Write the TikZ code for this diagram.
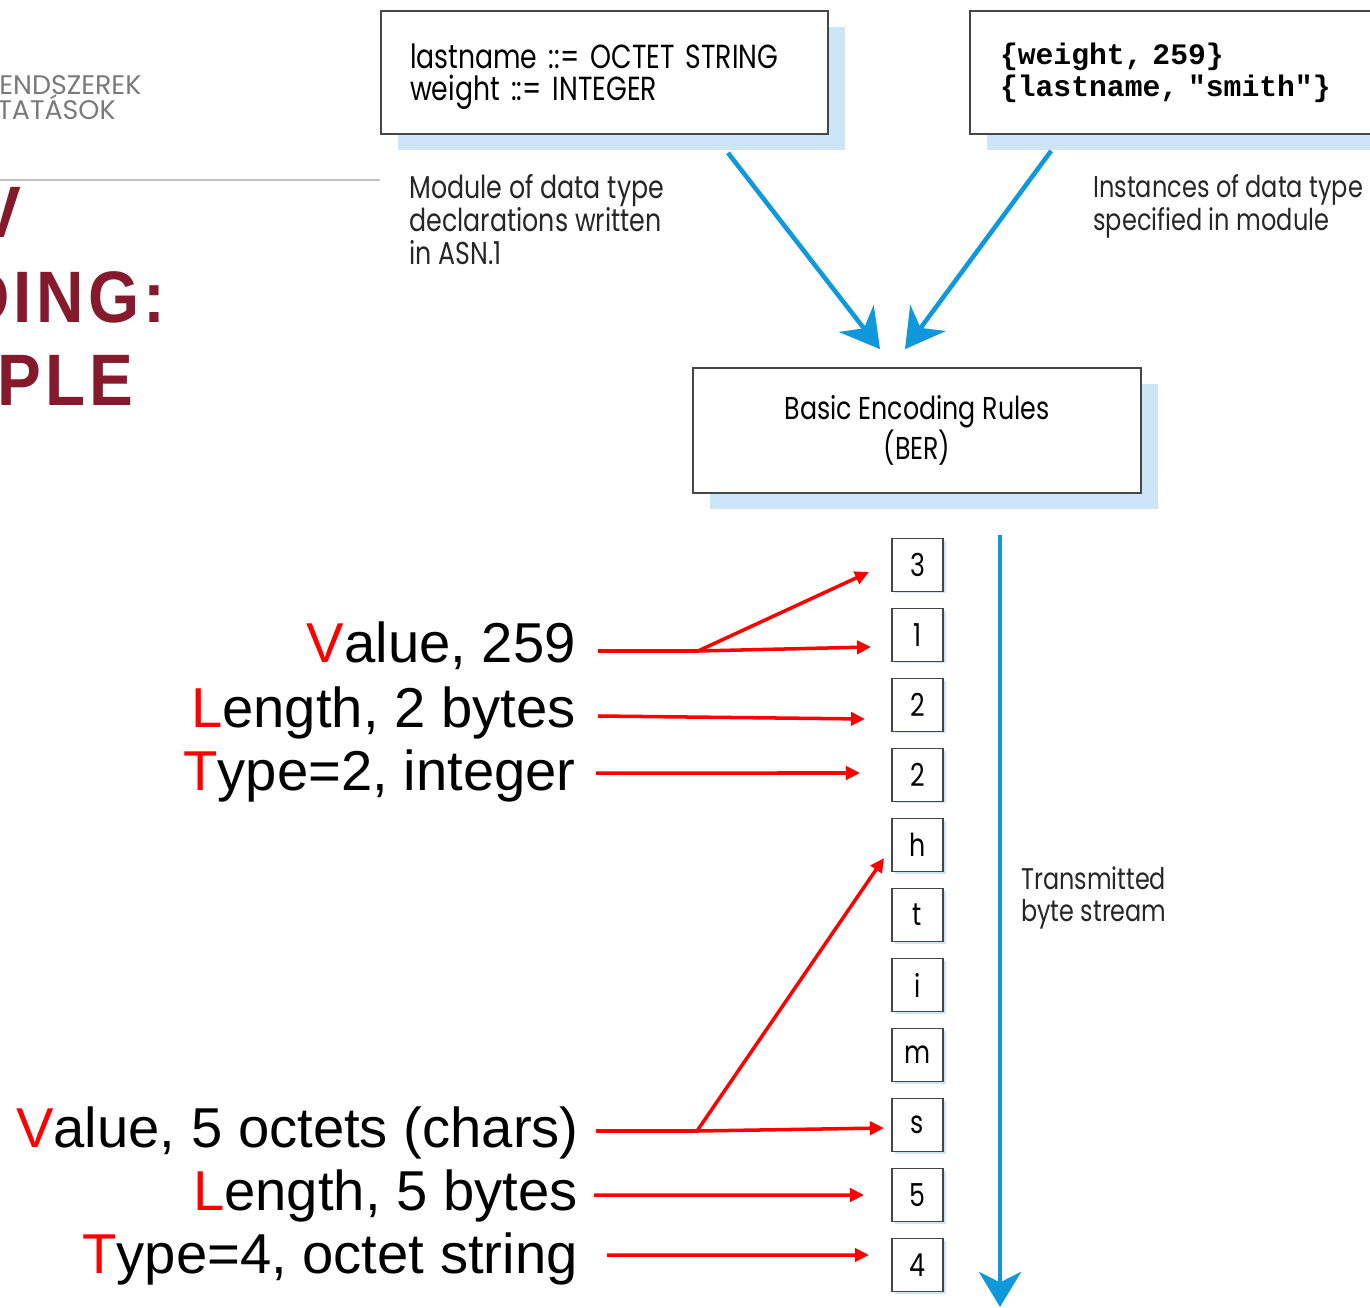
\documentclass[tikz,border=0pt]{standalone}
\usepackage{fontspec}
\setmainfont{Liberation Sans}
\newfontfamily\geofont[FakeStretch=0.8]{Poppins}
\newfontfamily\hdrfont{Poppins}
\newfontfamily\titlefont[FakeStretch=0.9,LetterSpace=6]{Liberation Sans}
\newfontfamily\codefont{Liberation Mono}
\usetikzlibrary{arrows.meta,shadows}
\definecolor{streamblue}{RGB}{16,152,220}
\definecolor{shadeblue}{RGB}{205,230,247}
\definecolor{titlered}{RGB}{134,26,45}
\definecolor{boxgray}{RGB}{70,70,70}
\newcommand{\initial}[1]{\textcolor{red}{#1}}

\begin{document}
\begin{tikzpicture}[x=0.02cm,y=-0.02cm,
    panel/.style={draw=boxgray,line width=1pt,fill=white,inner xsep=0.58cm,
      drop shadow={shadow xshift=0.34cm,shadow yshift=-0.32cm,fill=shadeblue,opacity=1}},
    note/.style={inner sep=0pt,align=left,font=\geofont\fontsize{18}{18.8}\selectfont,text=black!85},
    bytebox/.style={draw=boxgray,line width=1.1pt,fill=white,minimum width=1.02cm,minimum height=1.06cm,
      inner sep=0pt,font=\geofont\fontsize{18}{20}\selectfont,
      drop shadow={shadow xshift=0.06cm,shadow yshift=-0.04cm,fill=shadeblue,opacity=1}},
    label/.style={anchor=base east,inner sep=0pt,font=\fontsize{32}{36}\selectfont},
    heading/.style={anchor=base east,inner sep=0pt,text=titlered,font=\titlefont\bfseries\fontsize{41.5}{48}\selectfont},
    bluearrow/.style={streamblue,line width=2.6pt,-{Stealth[length=22pt,width=25pt,inset=7pt]}},
    redline/.style={red,line width=2pt},
    redarrow/.style={redline,-{Triangle[length=8pt,width=7.5pt]}}]
  \useasboundingbox (0,0) rectangle (1370,1308);
  \clip (0,0) rectangle (1370,1308);

  % slide header and title
  \node[anchor=base west,inner sep=0pt,text=black!52,font=\hdrfont\fontsize{15.3}{16}\selectfont] (hdr1) at (-1,95) {ENDSZEREK};
  \node[anchor=base west,inner sep=0pt,text=black!52,font=\hdrfont\fontsize{15.3}{16}\selectfont] (hdr2) at (-3,120) {TATÁSOK};
  \draw[black!25,line width=1pt] (0,180) -- (380,180);
  \node[heading] (title1) at (22,237) {TLV};
  \node[heading] (title2) at (166,322) {ENCODING:};
  \node[heading] (title3) at (134,405) {EXAMPLE};

  % ASN.1 module, instances and BER
  \node[panel,text width=7.78cm,minimum height=2.46cm,align=left,
    font=\geofont\fontsize{19}{18.3}\selectfont] (decl) at (604.5,72.5)
    {\rule{0pt}{19pt}lastname ::= OCTET STRING\\weight ::= INTEGER};
  \node[panel,text width=7.0cm,inner xsep=0.6cm,minimum height=2.46cm,align=left,
    font=\codefont\bfseries\fontsize{16.9}{18.3}\selectfont] (inst) at (1175,72.5)
    {\{weight, 259\}\\\{lastname, "smith"\}};
  \node[panel,minimum width=8.96cm,minimum height=2.5cm,align=center,
    font=\geofont\fontsize{18}{18}\selectfont] (ber) at (917,430.5)
    {Basic Encoding Rules\\(BER)};
  \node[note,anchor=north west] (declnote) at (409,174) {Module of data type\\declarations written\\in ASN.1};
  \node[note,anchor=north west,font=\geofont\fontsize{17.1}{18.8}\selectfont] (instnote) at (1093,174) {Instances of data type\\specified in module};

  \draw[bluearrow] ([xshift=2.47cm,yshift=-0.36cm]decl.south) -- ([xshift=-0.74cm,yshift=0.36cm]ber.north);
  \draw[bluearrow] ([xshift=1.64cm,yshift=-0.32cm]inst.south west) -- ([xshift=-0.24cm,yshift=0.36cm]ber.north);

  % byte stream
  \foreach \c [count=\i] in {3,1,2,2,h,t,i,m,s,5,4}
    \node[bytebox] (byte\i) at (917.5,{565+70*(\i-1)}) {\c};
  \coordinate (streamtop) at (1000,535);
  \coordinate (streamend) at (1000,1307);
  \draw[streamblue,line width=2.6pt,-{Stealth[length=20pt,width=24pt,inset=6pt]}] (streamtop) -- (streamend);
  \node[note,anchor=north west,font=\geofont\fontsize{17}{18.5}\selectfont] (streamnote) at (1021,866) {Transmitted\\byte stream};

  % TLV labels
  \node[label] (val1) at (576,662) {\initial{V}alue, 259};
  \node[label] (len1) at (576,727) {\initial{L}ength, 2 bytes};
  \node[label] (typ1) at (576,790) {\initial{T}ype=2, integer};
  \node[label] (val2) at (579,1147) {\initial{V}alue, 5 octets (chars)};
  \node[label] (len2) at (578,1210) {\initial{L}ength, 5 bytes};
  \node[label] (typ2) at (578,1273) {\initial{T}ype=4, octet string};

  \draw[redline] ([xshift=0.44cm,yshift=0.22cm]val1.base east) -- ++(100,0) coordinate (fork1);
  \draw[redarrow] (fork1) -- ([xshift=-0.44cm,yshift=-0.14cm]byte1.west);
  \draw[redarrow] (fork1) -- ([xshift=-0.4cm,yshift=-0.24cm]byte2.west);
  \draw[redarrow] ([xshift=0.44cm,yshift=0.22cm]len1.base east) -- ([xshift=-0.52cm,yshift=-0.28cm]byte3.west);
  \draw[redarrow] ([xshift=0.4cm,yshift=0.34cm]typ1.base east) -- ([xshift=-0.62cm,yshift=0.04cm]byte4.west);
  \draw[redline] ([xshift=0.34cm,yshift=0.32cm]val2.base east) -- ++(101,0) coordinate (fork2);
  \draw[redarrow] (fork2) -- ([xshift=-0.14cm,yshift=-0.26cm]byte5.west);
  \draw[redarrow] (fork2) -- ([xshift=-0.14cm,yshift=-0.06cm]byte9.west);
  \draw[redarrow] ([xshift=0.32cm,yshift=0.3cm]len2.base east) -- ([xshift=-0.54cm]byte10.west);
  \draw[redarrow] ([xshift=0.58cm,yshift=0.36cm]typ2.base east) -- ([xshift=-0.44cm,yshift=0.2cm]byte11.west);
\end{tikzpicture}
\end{document}
